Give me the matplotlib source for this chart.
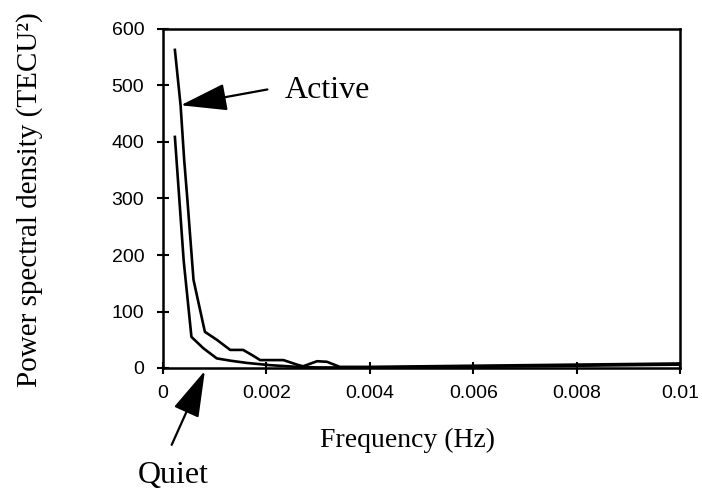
import matplotlib
matplotlib.use("Agg")
import matplotlib.pyplot as plt

# values
active_freq = [0.00023, 0.00034, 0.00041, 0.00047, 0.00059, 0.00081, 0.00104,
               0.0013, 0.00155, 0.00172, 0.00188, 0.00207, 0.00233, 0.00259,
               0.00271, 0.00298, 0.00317, 0.00342, 0.004, 0.005, 0.006,
               0.007, 0.008, 0.009, 0.01]
active_psd = [563, 465, 368, 300, 156, 64, 50, 32, 32, 23, 14, 14, 14, 6,
              3, 12, 11, 2, 2, 3, 4, 5, 6, 7, 8]

quiet_freq = [0.00023, 0.0004, 0.00055, 0.00078, 0.00104, 0.0013, 0.00162,
              0.00207, 0.0026, 0.003, 0.004, 0.006, 0.008, 0.01]
quiet_psd = [409, 190, 55, 35, 17, 13, 9, 5, 2, 1, 1, 2, 4, 6]

x_ticks = [0, 0.002, 0.004, 0.006, 0.008, 0.01]
x_tick_labels = ["0", "0.002", "0.004", "0.006", "0.008", "0.01"]
y_ticks = [0, 100, 200, 300, 400, 500, 600]

serif = "Liberation Serif"
sans = "Liberation Sans"

fig = plt.figure(figsize=(7.02, 4.93), dpi=100)
ax = fig.add_axes([163 / 702, 1 - 368 / 493, (680 - 163) / 702, (368 - 29) / 493])

ax.plot(active_freq, active_psd, color="black", lw=1.9)
ax.plot(quiet_freq, quiet_psd, color="black", lw=1.9)

ax.set_xlim(0, 0.01)
ax.set_ylim(0, 600)
ax.set_xticks(x_ticks)
ax.set_xticklabels(x_tick_labels)
ax.set_yticks(y_ticks)
for lab in ax.get_xticklabels() + ax.get_yticklabels():
    lab.set_fontfamily(sans)
    lab.set_fontsize(14)

ax.tick_params(direction="inout", length=9, width=1.5, top=False, right=False)
ax.tick_params(axis="y", pad=9)
ax.tick_params(axis="x", pad=8)
for sp in ax.spines.values():
    sp.set_linewidth(1.8)

fig.text(320 / 702, 1 - 440 / 493, "Frequency (Hz)", family=serif, fontsize=20,
         ha="left", va="center")
fig.text(30 / 702, 1 - 200 / 493, "Power spectral density (TECU\u00b2)", family=serif,
         fontsize=21, rotation=90, ha="center", va="center")

arrow = dict(arrowstyle="-|>,head_length=2.9,head_width=0.85", color="black",
             lw=1.6, shrinkA=0, shrinkB=0, mutation_scale=10)

ax.annotate("", xy=(0.000342, 465), xytext=(0.00202, 493), arrowprops=arrow)
ax.text(0.00236, 492, "Active", family=serif, fontsize=23, ha="left", va="center")

ax.annotate("", xy=(0.00081, -5), xytext=(0.000168, -136), arrowprops=arrow,
            annotation_clip=False)
ax.text(0.000193, -191, "Quiet", family=serif, fontsize=23, ha="center",
        va="center", clip_on=False)

fig.savefig("out.png", dpi=100)
